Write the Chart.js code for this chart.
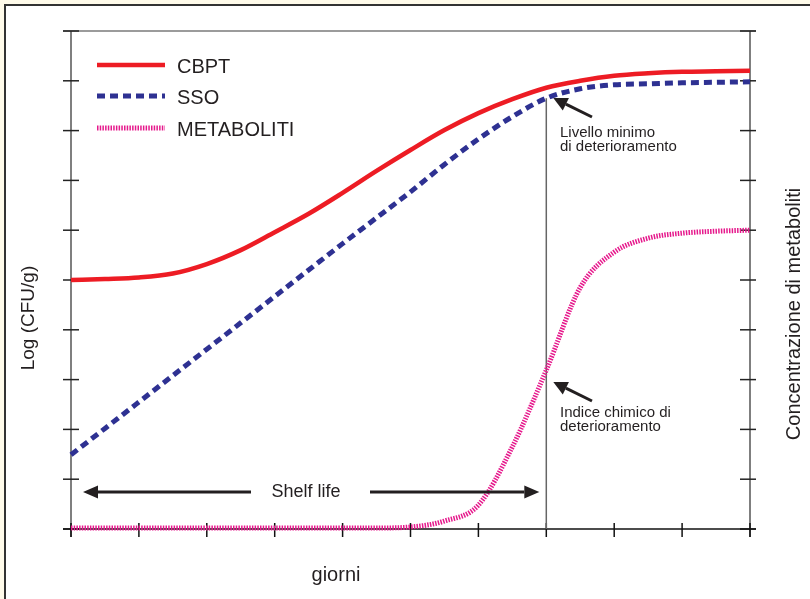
<!DOCTYPE html>
<html>
<head>
<meta charset="utf-8">
<script src="https://cdn.jsdelivr.net/npm/chart.js@4/dist/chart.umd.min.js"></script>
<style>
  html, body { margin: 0; padding: 0; background: #fffbea; overflow: hidden; }
  .frame { position: absolute; left: 4px; top: 4px; width: 830px; height: 620px; border: 2px solid #333; background: #fff; }
  #chart { position: absolute; left: 0; top: 0; }
</style>
</head>
<body>
<div class="frame"></div>
<canvas id="chart" width="810" height="599"></canvas>
<script>
// giorni (asse x, unità arbitrarie) e curve
const giorni     = [0, 0.5, 1, 1.5, 2, 2.5, 3, 3.5, 4, 4.5, 5, 5.5, 6, 6.5, 7, 7.5, 8, 8.5, 9, 9.5, 10];
const cbpt       = [5.00, 5.02, 5.05, 5.13, 5.32, 5.60, 5.96, 6.33, 6.75, 7.19, 7.61, 8.01, 8.35, 8.63, 8.86, 9.00, 9.10, 9.15, 9.18, 9.19, 9.20];
const sso        = [1.49, 2.02, 2.55, 3.08, 3.61, 4.14, 4.67, 5.20, 5.73, 6.25, 6.77, 7.32, 7.83, 8.28, 8.65, 8.84, 8.92, 8.94, 8.96, 8.97, 8.98];
const metaboliti = [0.02, 0.02, 0.02, 0.02, 0.02, 0.02, 0.02, 0.02, 0.02, 0.02, 0.04, 0.16, 0.48, 1.65, 3.19, 4.85, 5.56, 5.84, 5.94, 5.98, 6.00];
const xTicks = [0, 1, 2, 3, 4, 5, 6, 7, 8, 9, 10];
const yTicks = [0, 1, 2, 3, 4, 5, 6, 7, 8, 9, 10];
const giornoLimite = 7;   // shelf life / livello minimo

const FONT = '"Liberation Sans", Arial, Helvetica, sans-serif';
const INK = '#231f20';

function pts(arr) { return giorni.map((g, i) => ({ x: g, y: arr[i] })); }

function arrow(ctx, x1, y1, x2, y2, head, half) {
    const a = Math.atan2(y2 - y1, x2 - x1);
    const bx = x2 - head * Math.cos(a), by = y2 - head * Math.sin(a);
    ctx.beginPath();
    ctx.moveTo(x1, y1);
    ctx.lineTo(bx, by);
    ctx.stroke();
    ctx.beginPath();
    ctx.moveTo(x2, y2);
    ctx.lineTo(bx + half * Math.sin(a), by - half * Math.cos(a));
    ctx.lineTo(bx - half * Math.sin(a), by + half * Math.cos(a));
    ctx.closePath();
    ctx.fill();
}

// assi, tacche e linea verticale (sotto le curve)
const axesPlugin = {
    id: 'axes',
    beforeDatasetsDraw(chart) {
        const ctx = chart.ctx, xs = chart.scales.x, ys = chart.scales.y;
        const L = xs.left, R = xs.right, T = ys.top, B = ys.bottom;
        ctx.save();
        ctx.lineWidth = 1.5;
        // cornice superiore
        ctx.strokeStyle = '#7a7a7a';
        ctx.beginPath(); ctx.moveTo(L - 8, T); ctx.lineTo(R + 6, T); ctx.stroke();
        // assi verticali
        ctx.strokeStyle = '#555';
        ctx.beginPath(); ctx.moveTo(L, T); ctx.lineTo(L, B + 8); ctx.stroke();
        ctx.beginPath(); ctx.moveTo(R, T); ctx.lineTo(R, B + 8); ctx.stroke();
        // tacche y (entrambi gli assi)
        ctx.strokeStyle = '#222';
        yTicks.forEach(v => {
            const y = ys.getPixelForValue(v);
            ctx.beginPath(); ctx.moveTo(L - 8, y); ctx.lineTo(L + 8, y); ctx.stroke();
            ctx.beginPath(); ctx.moveTo(R - 10, y); ctx.lineTo(R + 6, y); ctx.stroke();
        });
        // asse x e tacche
        ctx.strokeStyle = '#111';
        ctx.beginPath(); ctx.moveTo(L - 8, B); ctx.lineTo(R + 6, B); ctx.stroke();
        xTicks.forEach(v => {
            const x = xs.getPixelForValue(v);
            ctx.beginPath(); ctx.moveTo(x, B - 6); ctx.lineTo(x, B + 8); ctx.stroke();
        });
        // linea verticale al giorno limite
        const xl = xs.getPixelForValue(giornoLimite);
        const yl = ys.getPixelForValue(sso[giorni.indexOf(giornoLimite)]);
        ctx.strokeStyle = '#666';
        ctx.beginPath(); ctx.moveTo(xl, yl); ctx.lineTo(xl, B); ctx.stroke();
        ctx.restore();
    }
};

// legenda, titoli, annotazioni
const labelsPlugin = {
    id: 'labels',
    afterDatasetsDraw(chart) {
        const ctx = chart.ctx, xs = chart.scales.x, ys = chart.scales.y;
        ctx.save();
        // legenda
        const legY = [65, 96, 128];
        chart.data.datasets.forEach((ds, i) => {
            ctx.strokeStyle = ds.borderColor;
            ctx.lineWidth = ds.borderWidth;
            ctx.setLineDash(ds.borderDash || []);
            ctx.beginPath(); ctx.moveTo(97, legY[i]); ctx.lineTo(165, legY[i]); ctx.stroke();
            ctx.setLineDash([]);
            ctx.fillStyle = INK;
            ctx.font = '20px ' + FONT;
            ctx.textBaseline = 'middle';
            ctx.textAlign = 'left';
            ctx.fillText(ds.label, 177, legY[i] + 2);
        });

        // titoli assi
        ctx.fillStyle = INK;
        ctx.textAlign = 'center';
        ctx.textBaseline = 'middle';
        ctx.font = '20px ' + FONT;
        ctx.fillText('giorni', 336, 575);
        ctx.save();
        ctx.translate(29, 318); ctx.rotate(-Math.PI / 2);
        ctx.font = '19px ' + FONT;
        ctx.fillText('Log (CFU/g)', 0, 0);
        ctx.restore();
        ctx.save();
        ctx.translate(794, 314); ctx.rotate(-Math.PI / 2);
        ctx.font = '20px ' + FONT;
        ctx.fillText('Concentrazione di metaboliti', 0, 0);
        ctx.restore();

        // shelf life
        const yS = 492;
        const x0 = xs.getPixelForValue(0) + 12, x7 = xs.getPixelForValue(giornoLimite) - 7;
        ctx.strokeStyle = INK; ctx.fillStyle = INK; ctx.lineWidth = 3;
        arrow(ctx, 251, yS, x0, yS, 15, 6.5);
        arrow(ctx, 370, yS, x7, yS, 15, 6.5);
        ctx.font = '18px ' + FONT;
        ctx.fillText('Shelf life', 306, yS);

        // annotazioni
        const xl = xs.getPixelForValue(giornoLimite);
        arrow(ctx, 592, 117, xl + 7, 98, 14, 7);
        arrow(ctx, 592, 401, xl + 7, 382, 14, 7);
        ctx.textAlign = 'left';
        ctx.textBaseline = 'alphabetic';
        ctx.font = '15px ' + FONT;
        ctx.fillText('Livello minimo', 560, 137);
        ctx.fillText('di deterioramento', 560, 151);
        ctx.fillText('Indice chimico di', 560, 417);
        ctx.fillText('deterioramento', 560, 431);
        ctx.restore();
    }
};

const ctx = document.getElementById('chart').getContext('2d');
new Chart(ctx, {
    type: 'line',
    data: {
        datasets: [{
            label: 'CBPT',
            data: pts(cbpt),
            borderColor: '#ed1c24',
            borderWidth: 4.5,
            yAxisID: 'y'
        }, {
            label: 'SSO',
            data: pts(sso),
            borderColor: '#2e3192',
            borderWidth: 5,
            borderDash: [8, 5],
            yAxisID: 'y'
        }, {
            label: 'METABOLITI',
            data: pts(metaboliti),
            borderColor: '#e6198c',
            borderWidth: 5,
            borderDash: [1.5, 1.2],
            yAxisID: 'y2'
        }]
    },
    options: {
        responsive: false,
        devicePixelRatio: 1,
        animation: false,
        layout: { padding: { left: 71, top: 31, right: 60, bottom: 70 } },
        elements: {
            point: { radius: 0 },
            line: { cubicInterpolationMode: 'monotone', fill: false, borderCapStyle: 'butt' }
        },
        datasets: { line: { clip: 10 } },
        scales: {
            x: { type: 'linear', min: 0, max: 10, display: false },
            y: { min: 0, max: 10, display: false },
            y2: { min: 0, max: 10, display: false, position: 'right' }
        },
        plugins: { legend: { display: false }, tooltip: { enabled: false } }
    },
    plugins: [axesPlugin, labelsPlugin]
});
</script>
</body>
</html>
